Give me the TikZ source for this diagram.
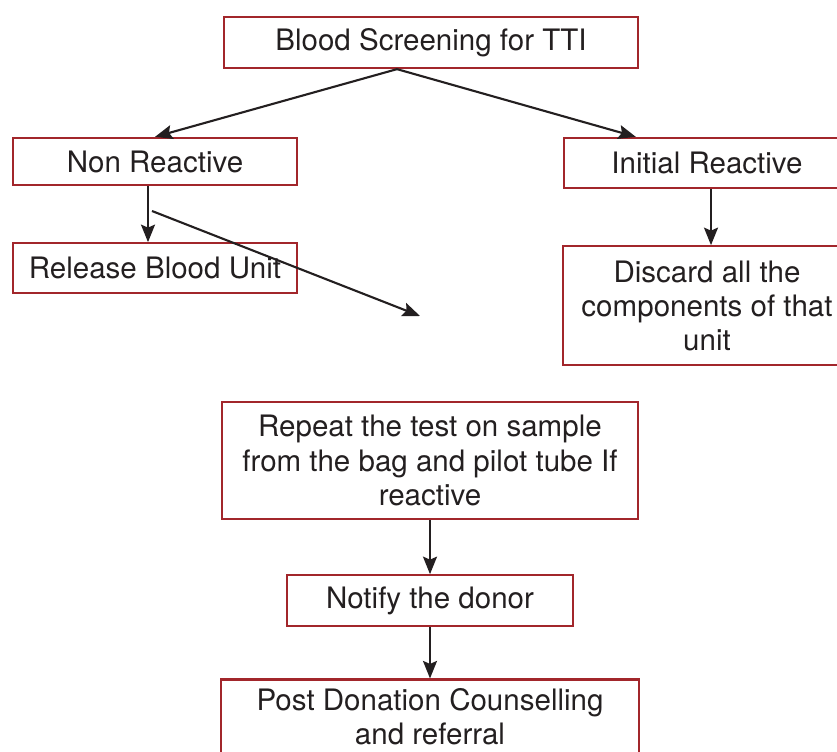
\documentclass[tikz,border=0pt]{standalone}
\usepackage{fontspec}
\setmainfont{TeX Gyre Heros}
\usepackage{xcolor}
\usepackage{tikz}
\usetikzlibrary{arrows.meta, positioning, calc}

\definecolor{boxred}{HTML}{A2262B}
\definecolor{inkgray}{HTML}{231F20}

\begin{document}
\begin{tikzpicture}[
    node distance=1.12cm and 1.5cm,
    box/.style={draw=boxred, line width=1.3pt, rectangle, inner sep=0pt,
      minimum height=1.0cm, minimum width=5.7cm, align=center,
      text=inkgray, font=\fontsize{16.8}{19.4}\selectfont},
    arrow/.style={draw=inkgray, line width=1.2pt,
      -{Stealth[length=3.5mm,width=2.8mm,inset=0.6mm]}}
]
\clip (0,0) rectangle (16.74,-15.04);
\useasboundingbox (0,0) rectangle (16.74,-15.04);

\node[box, minimum width=8.28cm, minimum height=1.02cm] (screen) at (8.62,-0.85) {Blood Screening for TTI};
\node[box, minimum width=5.68cm, minimum height=0.94cm] (nonreact) at (3.10,-3.23) {Non Reactive};
\node[box, minimum width=5.68cm, below=1.12cm of nonreact] (release) {Release Blood Unit};
\node[box, minimum width=5.72cm] (initial) at (14.14,-3.26) {Initial Reactive};
\node[box, minimum width=5.76cm, minimum height=2.38cm, below=1.12cm of initial] (discard) {Discard all the\\components of that\\unit};
\node[box, minimum width=8.32cm, minimum height=2.34cm] (repeat) at (8.60,-9.21) {Repeat the test on sample\\from the bag and pilot tube If\\reactive};
\node[box, minimum width=5.72cm, minimum height=1.02cm, below=1.08cm of repeat] (notify) {Notify the donor};
\node[box, minimum width=8.36cm, minimum height=1.5cm, below=1.02cm of notify] (counsel) {Post Donation Counselling\\and referral};

% loose arrow between the left column and the repeat box
\coordinate (slantfrom) at (3.04,-4.22);
\coordinate (slantto) at (8.40,-6.32);

\draw[arrow] ([xshift=-0.68cm]screen.south) -- (nonreact.north);
\draw[arrow] ([xshift=-0.68cm]screen.south) -- ([xshift=1.46cm]initial.north west);
\draw[arrow] ([xshift=-0.14cm]nonreact.south) -- ([xshift=-0.14cm]release.north);
\draw[arrow] (slantfrom) -- (slantto);
\draw[arrow] ([xshift=0.08cm]initial.south) -- ([xshift=0.08cm]discard.north);
\draw[arrow] (repeat.south) -- (notify.north);
\draw[arrow] (notify.south) -- (counsel.north);
\end{tikzpicture}
\end{document}
